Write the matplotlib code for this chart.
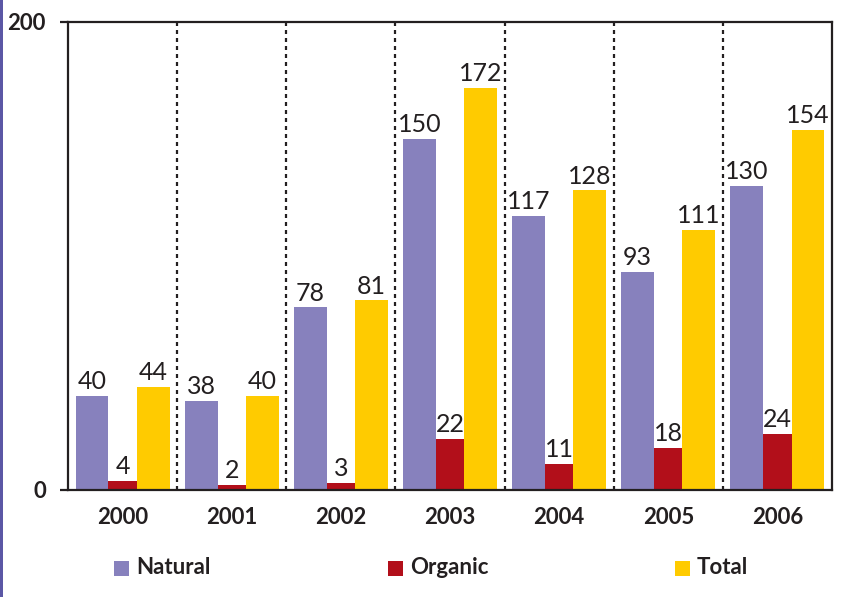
import matplotlib
matplotlib.use("Agg")
import matplotlib.pyplot as plt
from matplotlib.patches import Rectangle
import numpy as np

years = ["2000", "2001", "2002", "2003", "2004", "2005", "2006"]
series_names = ["Natural", "Organic", "Total"]
natural = [40, 38, 78, 150, 117, 93, 130]
organic = [4, 2, 3, 22, 11, 18, 24]
total = [44, 40, 81, 172, 128, 111, 154]
yticks = [0, 200]

colors = ["#8781BD", "#B20F1A", "#FFCB00"]
offsets = [-0.28, 0.0, 0.28]
widths = [0.30, 0.26, 0.30]

W, H = 843, 597
fig = plt.figure(figsize=(W / 100, H / 100), dpi=100)
ax = fig.add_axes([68 / W, 1 - 490 / H, (832 - 68) / W, (490 - 22) / H])

x = np.arange(len(years))
label_font = dict(family=["Lato", "DejaVu Sans"], weight="normal", size=18, color="#231f20")
for vals, off, w, c in zip([natural, organic, total], offsets, widths, colors):
    bars = ax.bar(x + off, vals, width=w, color=c, edgecolor="none", zorder=2)
    for b, v in zip(bars, vals):
        ax.annotate(str(v), (b.get_x() + b.get_width() / 2, v), xytext=(0, 5),
                    textcoords="offset points", ha="center", va="baseline", **label_font)

for i in range(len(years) - 1):
    ax.plot([i + 0.5, i + 0.5], [0, 200], color="#231f20", lw=1.6,
            linestyle=(0, (1.8, 1.8)), zorder=1)

ax.set_xlim(-0.5, len(years) - 0.5)
ax.set_ylim(0, 200)
ax.set_yticks(yticks)
ax.set_yticklabels([str(t) for t in yticks], family=["Lato", "DejaVu Sans"], weight="bold", fontsize=16)
ax.set_xticks(x)
ax.set_xticklabels(years, family=["Lato", "DejaVu Sans"], weight="bold", fontsize=16, color="#231f20")
ax.tick_params(axis="x", length=0, pad=12)
ax.tick_params(axis="y", length=6, width=1.6, direction="out", pad=10, colors="#231f20")
for s in ax.spines.values():
    s.set_linewidth(1.6)
    s.set_color("#231f20")

# legend
leg_sq_x = [114, 388, 675]
for name, c, sx in zip(series_names, colors, leg_sq_x):
    fig.add_artist(Rectangle((sx / W, 1 - 576 / H), 15 / W, 15 / H, transform=fig.transFigure,
                             facecolor=c, edgecolor="none"))
    fig.text((sx + 22) / W, 1 - 568 / H, name, ha="left", va="center",
             family=["Lato", "DejaVu Sans"], weight="bold", fontsize=16, color="#231f20")

# left border line
fig.add_artist(Rectangle((0, 0), 2.5 / W, 1, transform=fig.transFigure,
                         facecolor="#5B57A5", edgecolor="none"))

fig.savefig("out.png", dpi=100)
